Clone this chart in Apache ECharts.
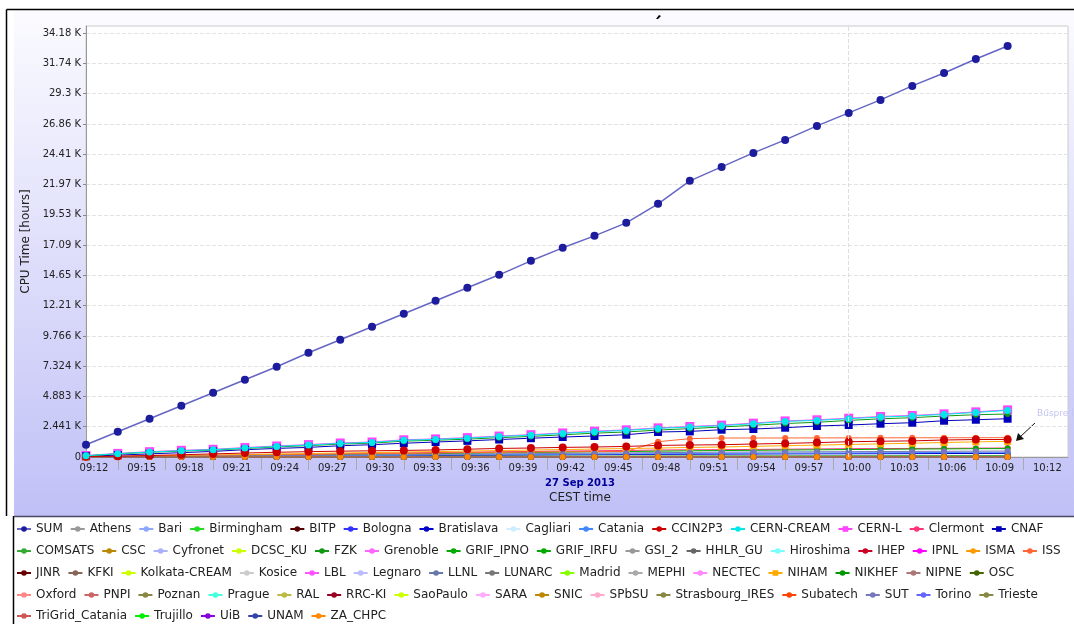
<!DOCTYPE html>
<html>
<head>
<meta charset="utf-8">
<title>CPU Time</title>
<script src="https://cdn.jsdelivr.net/npm/echarts@6/dist/echarts.min.js"></script>
<style>
  html, body { margin: 0; padding: 0; background: #fff; }
  #chart { width: 1074px; height: 624px; }
</style>
</head>
<body>
<div id="chart"></div>
<script>
// sample times, CEST, 27 Sep 2013
const times = ['09:12', '09:14', '09:16', '09:18', '09:20', '09:22', '09:24', '09:26', '09:28', '09:30',
    '09:32', '09:34', '09:36', '09:38', '09:40', '09:42', '09:44', '09:46', '09:48', '09:50',
    '09:52', '09:54', '09:56', '09:58', '10:00', '10:02', '10:04', '10:06', '10:08', '10:10'];
const xTickLabels = ['09:12', '09:15', '09:18', '09:21', '09:24', '09:27', '09:30', '09:33', '09:36', '09:39',
    '09:42', '09:45', '09:48', '09:51', '09:54', '09:57', '10:00', '10:03', '10:06', '10:09', '10:12'];
const yTickStep = 2441.40625;

// CPU time values [hours]
const sumValues = [991, 2039, 3087, 4135, 5183, 6230, 7278, 8407, 9454, 10502, 11550, 12598, 13646, 14693, 15822,
    16870, 17837, 18885, 20416, 22270, 23398, 24527, 25574, 26703, 27751, 28798, 29927, 30974, 32103, 33151];
const cernCreamValues = [100, 266, 403, 508, 588, 725, 854, 967, 1096, 1177, 1350, 1420, 1520, 1650, 1760,
    1902, 2039, 2144, 2305, 2418, 2523, 2684, 2869, 2950, 3087, 3224, 3305, 3434, 3595, 3756];
const cernLValues = [120, 290, 430, 540, 620, 760, 890, 1000, 1130, 1210, 1390, 1460, 1560, 1690, 1800,
    1940, 2080, 2190, 2350, 2460, 2570, 2730, 2910, 3000, 3130, 3270, 3350, 3480, 3640, 3800];
const fzkValues = [90, 250, 380, 480, 560, 690, 810, 920, 1040, 1120, 1280, 1350, 1440, 1560, 1660,
    1790, 1920, 2020, 2170, 2290, 2418, 2560, 2700, 2800, 2950, 3080, 3170, 3305, 3410, 3466];
const cnafValues = [60, 150, 250, 350, 451, 588, 693, 774, 911, 991, 1110, 1209, 1300, 1410, 1515,
    1612, 1692, 1797, 2015, 2063, 2200, 2257, 2362, 2499, 2579, 2684, 2765, 2926, 3006, 3087];
const issValues = [10, 30, 50, 80, 110, 140, 170, 200, 230, 260, 290, 320, 350, 380, 400,
    420, 440, 450, 1230, 1480, 1530, 1530, 1535, 1540, 1540, 1545, 1550, 1550, 1556, 1560];
const ccin2p3Values = [30, 70, 120, 180, 250, 320, 380, 430, 470, 500, 530, 570, 630, 690, 725,
    774, 806, 854, 935, 967, 991, 1048, 1096, 1160, 1230, 1270, 1300, 1370, 1410, 1410];
const nihamValues = [0, 40, 80, 120, 160, 200, 240, 280, 320, 360, 403, 440, 480, 520, 560,
    600, 640, 680, 720, 770, 806, 860, 910, 960, 1010, 1060, 1110, 1170, 1220, 1257];
const clermontValues = [0, 30, 60, 100, 130, 170, 200, 230, 260, 300, 330, 360, 390, 420, 450,
    480, 500, 530, 560, 580, 590, 610, 630, 650, 670, 680, 690, 700, 715, 725];
const grifIrfuValues = [0, 20, 45, 70, 100, 125, 150, 175, 200, 225, 250, 280, 300, 330, 360,
    390, 420, 440, 470, 500, 520, 540, 560, 580, 600, 620, 640, 655, 670, 680];
const sutValues = [0, 15, 30, 50, 70, 90, 110, 130, 150, 170, 190, 210, 230, 250, 270,
    290, 310, 330, 350, 370, 390, 400, 410, 420, 430, 440, 450, 460, 470, 480];
const cataniaValues = [0, 10, 25, 40, 55, 70, 85, 100, 115, 130, 145, 160, 175, 190, 205,
    220, 235, 250, 265, 280, 295, 305, 315, 325, 335, 345, 355, 365, 375, 380];
const bratislavaValues = [0, 10, 20, 30, 40, 50, 60, 70, 80, 90, 100, 115, 130, 145, 160,
    175, 190, 200, 210, 220, 230, 240, 250, 255, 260, 265, 270, 280, 285, 290];
const comsatsValues = [0, 5, 10, 15, 20, 25, 30, 35, 40, 45, 50, 55, 60, 60, 65,
    65, 70, 70, 75, 75, 80, 80, 85, 85, 90, 90, 95, 95, 100, 100];
const athensValues = [0, 5, 10, 15, 20, 20, 25, 30, 35, 40, 40, 45, 50, 50, 55,
    60, 60, 65, 70, 70, 75, 80, 80, 85, 90, 90, 95, 100, 100, 105];
const idleValues = [0, 0, 0, 0, 0, 0, 0, 0, 0, 0, 0, 0, 0, 0, 0,
    0, 0, 0, 0, 0, 0, 0, 0, 0, 0, 0, 0, 0, 0, 0];

// sites, in legend order
const siteNames = ['SUM', 'Athens', 'Bari', 'Birmingham', 'BITP', 'Bologna', 'Bratislava', 'Cagliari', 'Catania',
    'CCIN2P3', 'CERN-CREAM', 'CERN-L', 'Clermont', 'CNAF',
    'COMSATS', 'CSC', 'Cyfronet', 'DCSC_KU', 'FZK', 'Grenoble', 'GRIF_IPNO', 'GRIF_IRFU', 'GSI_2', 'HHLR_GU',
    'Hiroshima', 'IHEP', 'IPNL', 'ISMA', 'ISS',
    'JINR', 'KFKI', 'Kolkata-CREAM', 'Kosice', 'LBL', 'Legnaro', 'LLNL', 'LUNARC', 'Madrid', 'MEPHI', 'NECTEC',
    'NIHAM', 'NIKHEF', 'NIPNE', 'OSC',
    'Oxford', 'PNPI', 'Poznan', 'Prague', 'RAL', 'RRC-KI', 'SaoPaulo', 'SARA', 'SNIC', 'SPbSU', 'Strasbourg_IRES',
    'Subatech', 'SUT', 'Torino', 'Trieste',
    'TriGrid_Catania', 'Trujillo', 'UiB', 'UNAM', 'ZA_CHPC'];
const legendRowSizes = [14, 15, 15, 15, 5];

const siteColors = ['#1c1c9c', '#999999', '#8fa8ff', '#22dd22', '#550000', '#3333ff', '#0000cc', '#cceeff', '#4488ff',
    '#cc0000', '#00e8e8', '#ff44ff', '#ff3377', '#0000bb',
    '#33aa33', '#bb8800', '#aab0ff', '#ccff00', '#119911', '#ff66ff', '#00aa00', '#00aa00', '#999999', '#666666',
    '#77ffff', '#cc0022', '#ff00ff', '#ff9900', '#ff6633',
    '#660000', '#886655', '#ccff00', '#cccccc', '#ff55ff', '#bbbbff', '#6677aa', '#777777', '#88ff00', '#aaaaaa', '#ff88ff',
    '#ffaa00', '#009900', '#aa7777', '#446600',
    '#ff8888', '#cc6666', '#888844', '#44ffdd', '#bbbb44', '#990022', '#ccff00', '#ffaaff', '#bb8800', '#ffaacc', '#888844',
    '#ff4400', '#7777bb', '#6666ff', '#888844',
    '#cc5555', '#00ee00', '#8800dd', '#3344aa', '#ff8800'];

const seriesValues = {
    'SUM': sumValues, 'CERN-CREAM': cernCreamValues, 'CERN-L': cernLValues, 'FZK': fzkValues,
    'CNAF': cnafValues, 'ISS': issValues, 'CCIN2P3': ccin2p3Values, 'NIHAM': nihamValues,
    'Clermont': clermontValues, 'GRIF_IRFU': grifIrfuValues, 'SUT': sutValues, 'Catania': cataniaValues,
    'Bratislava': bratislavaValues, 'COMSATS': comsatsValues, 'Athens': athensValues
};

const seriesLook = {
    'SUM': { symbolSize: 8, lineWidth: 1.5, lineColor: '#6666c4', z: 5 },
    'CERN-CREAM': { symbolSize: 7, z: 4 },
    'CERN-L': { symbol: 'rect', symbolSize: 9 },
    'CNAF': { symbol: 'rect', symbolSize: 8 },
    'NIHAM': { symbol: 'rect', symbolSize: 7 },
    'CCIN2P3': { symbolSize: 8, z: 3 }
};

// minutes after 09:00
function toMin(t) {
    let p = t.split(':');
    return parseInt(p[0], 10) * 60 + parseInt(p[1], 10) - 540;
}

// labels name the minute period, so they sit half a minute right of the instant
const labelByPos = {};
const labelPositions = xTickLabels.map(function (l) {
    let v = toMin(l) + 0.5;
    labelByPos[v.toFixed(1)] = l;
    return v;
});
const separatorPositions = xTickLabels.slice(0, -1).map(function (l) { return toMin(l) + 2; });

const series = siteNames.map(function (name, i) {
    let look = seriesLook[name] || {};
    let values = seriesValues[name] || idleValues;
    let s = {
        name: name,
        type: 'line',
        data: times.map(function (t, k) { return [toMin(t), values[k]]; }),
        symbol: look.symbol || 'circle',
        symbolSize: look.symbolSize || 6,
        z: look.z || 2,
        itemStyle: { color: siteColors[i] },
        lineStyle: { width: look.lineWidth || 1, color: look.lineColor || siteColors[i] },
        emphasis: { disabled: true },
        silent: true
    };
    if (name === 'SUM') {
        s.markLine = {
            silent: true,
            symbol: 'none',
            label: { show: false },
            lineStyle: { color: '#dddddd', type: 'dashed', width: 1 },
            data: [{ xAxis: 60 }]
        };
    }
    return s;
});

const legendTops = [523, 545, 567, 589, 610];
let legends = [];
let start = 0;
legendRowSizes.forEach(function (n, r) {
    legends.push({
        data: siteNames.slice(start, start + n),
        left: 16,
        top: legendTops[r],
        width: 1058,
        padding: 0,
        itemWidth: 14,
        itemHeight: 7,
        itemGap: 7,
        selectedMode: false,
        textStyle: { fontSize: 12, color: '#222', fontFamily: 'DejaVu Sans' }
    });
    start += n;
});

const chart = echarts.init(document.getElementById('chart'));
chart.setOption({
    animation: false,
    textStyle: { fontFamily: 'DejaVu Sans' },
    graphic: [
        {
            type: 'rect', z: -100, silent: true,
            shape: { x: 14, y: 10, width: 1060, height: 506 },
            style: {
                fill: {
                    type: 'linear', x: 0, y: 0, x2: 0, y2: 1,
                    colorStops: [{ offset: 0, color: '#fbfbff' }, { offset: 1, color: '#c0c0f7' }]
                }
            }
        },
        { type: 'line', silent: true, shape: { x1: 6.5, y1: 9.5, x2: 1074, y2: 9.5 }, style: { stroke: '#000', lineWidth: 1.5 } },
        { type: 'line', silent: true, shape: { x1: 6.5, y1: 9.5, x2: 6.5, y2: 516 }, style: { stroke: '#000', lineWidth: 1.5 } },
        { type: 'line', silent: true, shape: { x1: 13.5, y1: 516, x2: 13.5, y2: 624 }, style: { stroke: '#000', lineWidth: 1.5 } },
        { type: 'line', silent: true, shape: { x1: 14, y1: 516.5, x2: 1074, y2: 516.5 }, style: { stroke: '#4a4a66', lineWidth: 1.5 } },
        { type: 'polygon', silent: true, shape: { points: [[656, 19], [659, 15], [661, 16], [658, 19]] }, style: { fill: '#000' } },
        {
            type: 'text', silent: true, x: 580, y: 483,
            style: { text: '27 Sep 2013', fontSize: 10, fontWeight: 'bold', fill: '#000099', align: 'center', verticalAlign: 'middle', fontFamily: 'DejaVu Sans' }
        },
        {
            type: 'text', silent: true, x: 580, y: 498,
            style: { text: 'CEST time', fontSize: 12, fill: '#222', align: 'center', verticalAlign: 'middle', fontFamily: 'DejaVu Sans' }
        },
        {
            type: 'text', silent: true, x: 1037, y: 414,
            style: { text: 'Bűspre l', fontSize: 9, fill: '#c4c4f2', align: 'left', verticalAlign: 'middle', fontFamily: 'DejaVu Sans' }
        },
        { type: 'line', silent: true, shape: { x1: 1035, y1: 423, x2: 1020, y2: 437 }, style: { stroke: '#111', lineWidth: 1 } },
        { type: 'polygon', silent: true, shape: { points: [[1016, 441], [1018, 433], [1024, 439]] }, style: { fill: '#111' } }
    ],
    grid: {
        left: 86, top: 26, right: 6, bottom: 167,
        show: true, backgroundColor: '#ffffff', borderColor: '#cccccc', borderWidth: 1
    },
    legend: legends,
    xAxis: {
        type: 'value',
        min: 12,
        max: 73.8,
        axisLine: { lineStyle: { color: '#999' } },
        axisTick: { show: true, customValues: separatorPositions, length: 13, lineStyle: { color: '#aaa' } },
        axisLabel: {
            customValues: labelPositions,
            margin: 6,
            fontSize: 10,
            color: '#222',
            formatter: function (v) { return labelByPos[v.toFixed(1)] || ''; }
        },
        splitLine: { show: false }
    },
    yAxis: {
        type: 'value',
        min: 0,
        max: 34760,
        interval: yTickStep,
        name: 'CPU Time [hours]',
        nameLocation: 'middle',
        nameGap: 50,
        nameTextStyle: { fontSize: 12, color: '#222' },
        axisLine: { show: true, lineStyle: { color: '#999' } },
        axisTick: { show: true, length: 3, lineStyle: { color: '#888' } },
        axisLabel: {
            fontSize: 10,
            color: '#222',
            margin: 5,
            showMaxLabel: false,
            formatter: function (v) {
                if (v === 0) return '0';
                return parseFloat((v / 1000).toPrecision(4)).toString() + ' K';
            }
        },
        splitLine: { lineStyle: { color: '#e2e2e2', type: 'dashed' } }
    },
    series: series
});
</script>
</body>
</html>
